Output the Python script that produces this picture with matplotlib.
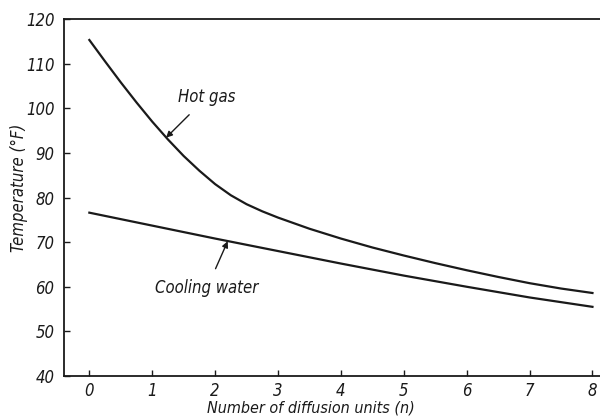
import matplotlib
matplotlib.use("Agg")
import matplotlib.pyplot as plt

# Valores
n_hot = [0, 0.25, 0.5, 0.75, 1, 1.25, 1.5, 1.75, 2, 2.25, 2.5, 2.75, 3,
         3.5, 4, 4.5, 5, 5.5, 6, 6.5, 7, 7.5, 8]
t_hot = [115.3, 110.5, 105.8, 101.3, 97.0, 93.0, 89.3, 86.0, 83.0, 80.5, 78.5, 76.9, 75.5,
         73.0, 70.8, 68.8, 67.0, 65.3, 63.7, 62.2, 60.8, 59.6, 58.6]

n_cool = [0, 1, 2, 3, 4, 5, 6, 7, 8]
t_cool = [76.6, 73.7, 70.8, 68.0, 65.2, 62.5, 60.0, 57.6, 55.5]

x_ticks = [0, 1, 2, 3, 4, 5, 6, 7, 8]
y_ticks = [40, 50, 60, 70, 80, 90, 100, 110, 120]

plt.rcParams['font.family'] = ['DejaVu Sans']
plt.rcParams['font.style'] = 'italic'
plt.rcParams['font.stretch'] = 'condensed'

fig = plt.figure(figsize=(6, 4.18), dpi=100)
ax = fig.add_axes([0.107, 0.1005, 0.893, 0.854])

ink = '#1a1a1a'
ax.plot(n_hot, t_hot, color=ink, lw=1.6, solid_joinstyle='round')
ax.plot(n_cool, t_cool, color=ink, lw=1.6, solid_joinstyle='round')

ax.set_xlim(-0.4, 8.12)
ax.set_ylim(40, 120)
ax.set_xticks(x_ticks)
ax.set_yticks(y_ticks)
ax.tick_params(direction='in', length=4, width=1, colors=ink, labelsize=12)
ax.tick_params(axis='y', pad=7)
ax.tick_params(axis='x', pad=4)
ax.spines['right'].set_visible(False)
for s in ['left', 'bottom', 'top']:
    ax.spines[s].set_linewidth(1.3)
    ax.spines[s].set_color(ink)

ax.set_xlabel("Number of diffusion units (n)", fontsize=11.5, color=ink)
ax.xaxis.set_label_coords((311 - 64) / 536, -0.069)
ax.set_ylabel("Temperature (°F)", fontsize=12, color=ink)
ax.yaxis.set_label_coords(-0.068, 0.527)

ax.annotate("Hot gas", xy=(1.22, 93.4), xytext=(1.87, 102.5),
            ha='center', va='center', fontsize=12, color=ink,
            arrowprops=dict(arrowstyle='-|>', color=ink, lw=1, shrinkA=6, shrinkB=0,
                            mutation_scale=9))
ax.annotate("Cooling water", xy=(2.2, 70.2), xytext=(1.87, 59.7),
            ha='center', va='center', fontsize=12, color=ink,
            arrowprops=dict(arrowstyle='-|>', color=ink, lw=1, shrinkA=6, shrinkB=0,
                            mutation_scale=9))

plt.savefig("out.png", dpi=100)
